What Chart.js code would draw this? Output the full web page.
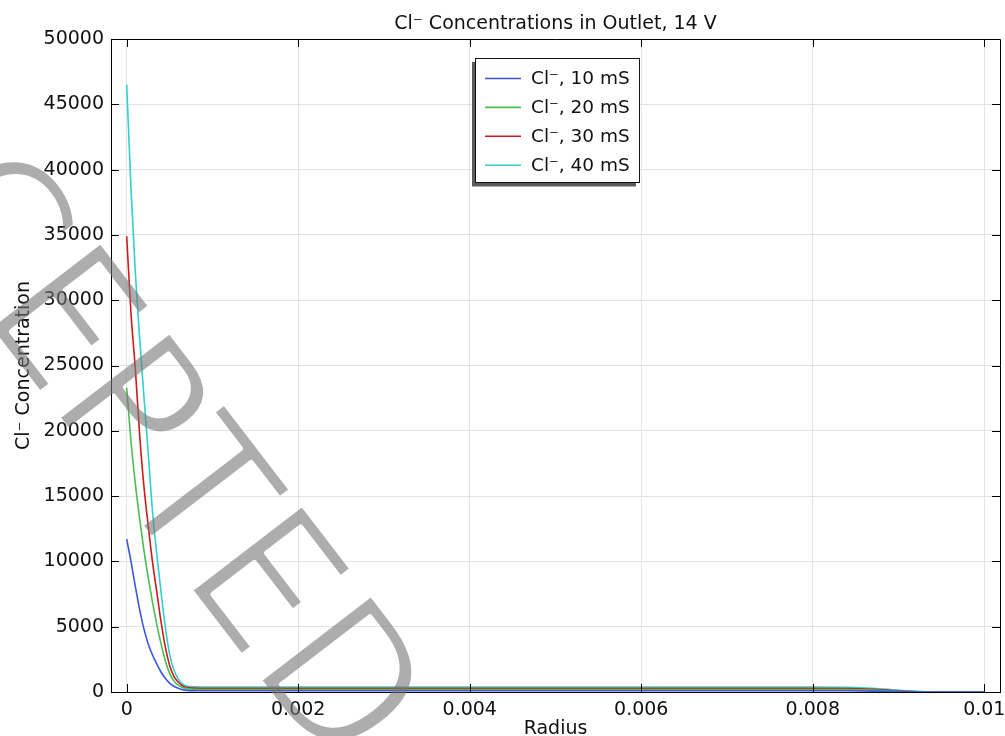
<!DOCTYPE html>
<html>
<head>
<meta charset="utf-8">
<title>Cl- Concentrations in Outlet</title>
<script src="https://cdn.jsdelivr.net/npm/chart.js@4.4.1/dist/chart.umd.min.js"></script>
<style>
  html, body { margin: 0; padding: 0; background: #fff; }
</style>
</head>
<body>
<canvas id="myChart" width="1005" height="736"></canvas>
<script>
// radius samples (shared by all curves)
const radius = [0, 0.00005, 0.0001, 0.00015, 0.0002, 0.00025, 0.0003, 0.00035, 0.0004, 0.00045,
  0.0005, 0.00055, 0.0006, 0.00065, 0.0007, 0.0008, 0.0009, 0.001, 0.002, 0.003, 0.004, 0.005,
  0.006, 0.007, 0.008, 0.0084, 0.0087, 0.0089, 0.0091, 0.0093, 0.0095, 0.01]

const cl10mS = [11700, 10000, 8100, 6350, 4850, 3700, 2850, 2150, 1530, 1050,
  680, 440, 280, 180, 125, 100, 96, 95, 95, 95, 95, 95,
  95, 95, 95, 90, 70, 45, 20, 4, 0, 0]
const cl20mS = [23300, 19200, 16000, 13300, 10900, 8800, 6900, 5200, 3700, 2400,
  1450, 850, 520, 340, 260, 210, 195, 190, 190, 190, 190, 190,
  190, 190, 190, 180, 140, 90, 40, 8, 0, 0]
const cl30mS = [34900, 29000, 24800, 19800, 15800, 12800, 10000, 7700, 5400, 3450,
  2050, 1200, 760, 480, 340, 295, 288, 285, 285, 285, 285, 285,
  285, 285, 285, 270, 210, 135, 60, 12, 0, 0]
const cl40mS = [46500, 38600, 32200, 27200, 22700, 18400, 13900, 10600, 7700, 5000,
  2900, 1700, 1000, 620, 460, 400, 385, 380, 380, 380, 380, 380,
  380, 380, 380, 360, 285, 185, 85, 18, 0, 0]

const seriesLabels = ['Cl\u207B, 10 mS', 'Cl\u207B, 20 mS', 'Cl\u207B, 30 mS', 'Cl\u207B, 40 mS']
const seriesColors = ['#3b57e0', '#4cbd52', '#cf1b1b', '#2fd0d0']

const xTicks = [0, 0.002, 0.004, 0.006, 0.008, 0.01]
const xTickLabels = ['0', '0.002', '0.004', '0.006', '0.008', '0.01']
const yTicks = [0, 5000, 10000, 15000, 20000, 25000, 30000, 35000, 40000, 45000, 50000]
const yTickLabels = ['0', '5000', '10000', '15000', '20000', '25000', '30000', '35000', '40000', '45000', '50000']

const chartTitle = 'Cl\u207B Concentrations in Outlet, 14 V'
const xTitle = 'Radius'
const yTitle = 'Cl\u207B Concentration'
const watermark = 'ACCEPTED'

const FONT = '"DejaVu Sans", "Liberation Sans", sans-serif'

const allSeries = [cl10mS, cl20mS, cl30mS, cl40mS]

// frame on top/right, inward tick marks, titles
const framePlugin = {
  id: 'frame',
  afterDatasetsDraw(chart) {
    const { ctx, chartArea: a, scales } = chart
    ctx.save()
    ctx.strokeStyle = '#000'
    ctx.lineWidth = 1
    ctx.beginPath()
    ctx.moveTo(a.left, a.top + 0.5)
    ctx.lineTo(a.right + 0.5, a.top + 0.5)
    ctx.lineTo(a.right + 0.5, a.bottom)
    xTicks.forEach(v => {
      const px = Math.round(scales.x.getPixelForValue(v)) + 0.5
      ctx.moveTo(px, a.bottom)
      ctx.lineTo(px, a.bottom - 8)
      ctx.moveTo(px, a.top)
      ctx.lineTo(px, a.top + 8)
    })
    yTicks.forEach(v => {
      const py = Math.round(scales.y.getPixelForValue(v)) + 0.5
      ctx.moveTo(a.left, py)
      ctx.lineTo(a.left + 8, py)
      ctx.moveTo(a.right, py)
      ctx.lineTo(a.right - 8, py)
    })
    ctx.stroke()

    ctx.fillStyle = '#111'
    ctx.font = '19px ' + FONT
    ctx.textAlign = 'center'
    ctx.textBaseline = 'alphabetic'
    const cx = (a.left + a.right) / 2
    ctx.fillText(chartTitle, cx, 29)
    ctx.fillText(xTitle, cx, 734)
    ctx.translate(29, (a.top + a.bottom) / 2)
    ctx.rotate(-Math.PI / 2)
    ctx.fillText(yTitle, 0, 0)
    ctx.restore()
  }
}

// boxed legend with shadow inside plot
const legendPlugin = {
  id: 'boxLegend',
  afterDatasetsDraw(chart) {
    const ctx = chart.ctx
    const bx = 475.5, by = 58.5, bw = 164, bh = 124
    ctx.save()
    ctx.fillStyle = '#5a5a5a'
    ctx.fillRect(bx - 3.5, by + 3.5, bw, bh + 0.5)
    ctx.fillStyle = '#fff'
    ctx.fillRect(bx, by, bw, bh)
    ctx.strokeStyle = '#111'
    ctx.lineWidth = 1
    ctx.strokeRect(bx, by, bw, bh)
    ctx.font = '18.5px ' + FONT
    ctx.textAlign = 'left'
    ctx.textBaseline = 'middle'
    chart.data.datasets.forEach((ds, i) => {
      const y = 78.5 + i * 28.9
      ctx.strokeStyle = ds.borderColor
      ctx.lineWidth = 1.6
      ctx.beginPath()
      ctx.moveTo(485, y)
      ctx.lineTo(521, y)
      ctx.stroke()
      ctx.fillStyle = '#111'
      ctx.fillText(ds.label, 531, y + 1)
    })
    ctx.restore()
  }
}

// diagonal stamp over the figure (condensed, thinned glyphs on an offscreen canvas)
const stampPlugin = {
  id: 'stamp',
  afterDraw(chart) {
    const w = chart.width, h = chart.height
    const off = document.createElement('canvas')
    off.width = w
    off.height = h
    const o = off.getContext('2d')
    o.font = '195px ' + FONT
    const pre = o.measureText(watermark.slice(0, 6)).width
    o.translate(179, 576)
    o.rotate(52.5 * Math.PI / 180)
    o.scale(0.92, 1)
    o.textBaseline = 'alphabetic'
    o.fillStyle = '#777'
    o.fillText(watermark, -pre, 0)
    o.globalCompositeOperation = 'destination-out'
    o.lineWidth = 6
    o.lineJoin = 'round'
    o.strokeStyle = '#000'
    o.strokeText(watermark, -pre, 0)
    const ctx = chart.ctx
    ctx.save()
    ctx.globalAlpha = 0.6
    ctx.drawImage(off, 0, 0)
    ctx.restore()
  }
}

const ctx = document.getElementById('myChart')
const myChart = new Chart(ctx, {
  type: 'line',
  data: {
    datasets: allSeries.map((vals, i) => ({
      label: seriesLabels[i],
      data: radius.map((r, j) => ({ x: r, y: vals[j] })),
      borderColor: seriesColors[i],
      backgroundColor: 'transparent',
      borderWidth: 1.6,
      pointRadius: 0,
      cubicInterpolationMode: 'monotone',
      fill: false
    }))
  },
  options: {
    responsive: false,
    animation: false,
    devicePixelRatio: 1,
    layout: { padding: { top: 39, right: 5, left: 0, bottom: 0 } },
    plugins: {
      legend: { display: false },
      title: { display: false },
      tooltip: { enabled: false }
    },
    scales: {
      x: {
        type: 'linear',
        min: -0.000183,
        max: 0.010183,
        afterBuildTicks: s => { s.ticks = xTicks.map(v => ({ value: v })) },
        afterFit: s => { s.height = 44; s.paddingLeft = 0; s.paddingRight = 0 },
        grid: { color: '#e4e4e4', drawTicks: false },
        border: { color: '#000', width: 1 },
        ticks: {
          padding: 7,
          color: '#111',
          autoSkip: false,
          maxRotation: 0,
          font: { family: FONT, size: 19 },
          callback: (v, i) => xTickLabels[i]
        }
      },
      y: {
        type: 'linear',
        min: 0,
        max: 50000,
        afterBuildTicks: s => { s.ticks = yTicks.map(v => ({ value: v })) },
        afterFit: s => { s.width = 111 },
        grid: { color: '#e4e4e4', drawTicks: false },
        border: { color: '#000', width: 1 },
        ticks: {
          padding: 7,
          color: '#111',
          autoSkip: false,
          font: { family: FONT, size: 19 },
          callback: (v, i) => yTickLabels[i]
        }
      }
    }
  },
  plugins: [framePlugin, legendPlugin, stampPlugin]
})
</script>
</body>
</html>
